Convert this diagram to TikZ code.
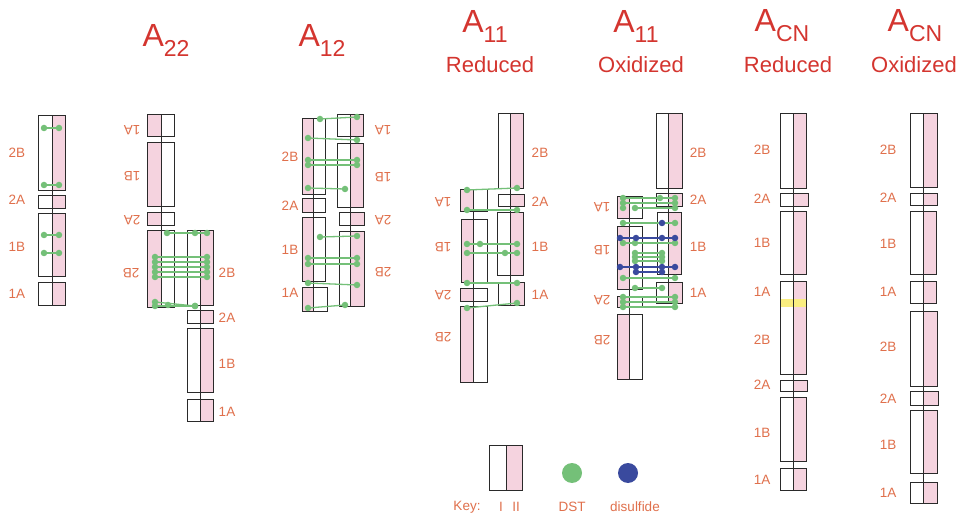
\documentclass[tikz,border=0pt]{standalone}
\usepackage{fontspec}
\setmainfont{Liberation Sans}
\definecolor{pinkc}{HTML}{F5D3DF}
\definecolor{boxc}{HTML}{2A2A2A}
\definecolor{titlec}{HTML}{D4352F}
\definecolor{lblc}{HTML}{E0704C}
\definecolor{dstc}{HTML}{74C078}
\definecolor{disc}{HTML}{3A4A9E}
\definecolor{yelc}{HTML}{FAEE80}
\newcommand\segR[5]{\fill[pinkc] (#2,#4) rectangle (#3,#5); \draw[boxline] (#1,#4) rectangle (#3,#5);}
\newcommand\segL[5]{\fill[pinkc] (#1,#4) rectangle (#2,#5); \draw[boxline] (#1,#4) rectangle (#3,#5);}
\newcommand\ctrline[3]{\draw[boxline] (#1,#2) -- (#1,#3);}
\newcommand\lb[3]{\node[lbl] (lab) at (#1,#2) {#3};}
\newcommand\lbf[3]{\node[lbl,rotate=180] (lab) at (#1,#2) {#3};}
\newcommand\dstl[4]{\node[dstdot] (p) at (#1,#2) {}; \node[dstdot] (q) at (#3,#4) {}; \draw[dstline] (p) -- (q);}
\newcommand\disl[4]{\node[disdot] (p) at (#1,#2) {}; \node[disdot] (q) at (#3,#4) {}; \draw[disline] (p) -- (q);}
\newcommand\dd[2]{\node[dstdot] (e) at (#1,#2) {};}
\newcommand\bd[2]{\node[disdot] (e) at (#1,#2) {};}
\newcommand\subs[1]{\raisebox{-10pt}{\fontsize{23}{23}\selectfont #1}}
\begin{document}
\begin{tikzpicture}[x=1pt,y=-1pt,
  boxline/.style={draw=boxc,line width=1pt},
  lbl/.style={text=lblc,font=\fontsize{13.5}{13.5}\selectfont,inner sep=0pt},
  ttl/.style={text=titlec,font=\fontsize{32}{32}\selectfont,anchor=base,inner sep=0pt},
  subttl/.style={text=titlec,font=\fontsize{22}{22}\selectfont,anchor=base,inner sep=0pt},
  dstdot/.style={circle,fill=dstc,inner sep=0pt,minimum size=6.5pt},
  disdot/.style={circle,fill=disc,inner sep=0pt,minimum size=6.5pt},
  dstline/.style={draw=dstc,line width=1.3pt,shorten <=-2pt,shorten >=-2pt},
  disline/.style={draw=disc,line width=1.7pt,shorten <=-2pt,shorten >=-2pt}]
\useasboundingbox (0,0) rectangle (964,518);
\fill[white] (0,0) rectangle (964,518);

% ---------- titles ----------
\node[ttl] (t1) at (166,47) {A\subs{22}};
\node[ttl] (t2) at (322,47) {A\subs{12}};
\node[ttl] (t3) at (485,33) {A\subs{11}};
\node[subttl] (s3) at (490,73) {Reduced};
\node[ttl] (t4) at (636,33) {A\subs{11}};
\node[subttl] (s4) at (641,73) {Oxidized};
\node[ttl] (t5) at (782,32) {A\subs{CN}};
\node[subttl] (s5) at (788,73) {Reduced};
\node[ttl] (t6) at (915,32) {A\subs{CN}};
\node[subttl] (s6) at (914,73) {Oxidized};

% ---------- left column ----------
\segR{38}{52}{65}{116}{191}
\segR{38}{52}{65}{196}{209}
\segR{38}{52}{65}{214}{277}
\segR{38}{52}{65}{283}{306}
\ctrline{52}{116}{306}
\lb{17}{153}{2B}\lb{17}{200}{2A}\lb{17}{247}{1B}\lb{17}{294}{1A}
\dstl{44}{128}{59}{128}
\dstl{44}{185}{59}{185}
\dstl{44}{235}{59}{235}
\dstl{44}{253}{59}{253}

% ---------- A22 ----------
\segL{147}{161}{174}{115}{137}
\segL{147}{161}{174}{143}{207}
\segL{147}{161}{174}{213}{226}
\segL{147}{161}{174}{231}{308}
\segR{187}{200}{213}{231}{306}
\segR{187}{200}{213}{311}{324}
\segR{187}{200}{213}{329}{393}
\segR{187}{200}{213}{400}{422}
\ctrline{161}{115}{308}
\ctrline{200}{231}{422}
\lbf{132}{130}{1A}\lbf{132}{176}{1B}\lbf{132}{220}{2A}\lbf{131}{273}{2B}
\lb{227}{273}{2B}\lb{227}{318}{2A}\lb{227}{364}{1B}\lb{227}{412}{1A}
\dstl{167}{233}{207}{233}\dd{195}{233}
\dstl{155}{257}{207}{257}
\dstl{155}{262}{207}{262}
\dstl{155}{267}{207}{267}
\dstl{155}{272}{207}{272}
\dstl{155}{277}{207}{277}
\dstl{155}{302}{195}{306}
\dstl{155}{306}{195}{306}\dd{168}{305}

% ---------- A12 ----------
\segL{302}{313}{325}{119}{195}
\segL{302}{313}{325}{199}{213}
\segL{302}{313}{325}{218}{282}
\segL{302}{313}{327}{288}{312}
\segR{337}{350}{363}{115}{137}
\segR{337}{350}{363}{144}{208}
\segR{339}{350}{364}{213}{226}
\segR{339}{350}{364}{232}{307}
\ctrline{313}{119}{312}
\ctrline{350}{115}{307}
\lb{290}{157}{2B}\lb{290}{206}{2A}\lb{290}{250}{1B}\lb{290}{293}{1A}
\lbf{383}{130}{1A}\lbf{383}{177}{1B}\lbf{383}{220}{2A}\lbf{383}{272}{2B}
\dstl{320}{119}{357}{117}
\dstl{308}{138}{357}{140}
\dstl{308}{160}{357}{160}
\dstl{308}{165}{357}{165}
\dstl{308}{188}{345}{189}
\dstl{320}{237}{357}{236}
\dstl{308}{258}{357}{258}
\dstl{308}{264}{357}{264}
\dstl{308}{283}{357}{285}
\dstl{308}{308}{345}{305}

% ---------- A11 reduced ----------
\segR{498}{510}{523}{114}{189}
\segR{498}{510}{524}{195}{207}
\segR{497}{510}{523}{213}{276}
\segR{498}{510}{524}{283}{306}
\segL{460}{473}{487}{190}{212}
\segL{461}{473}{487}{220}{283}
\segL{460}{473}{487}{289}{302}
\segL{460}{473}{487}{307}{383}
\ctrline{510}{114}{306}
\ctrline{473}{190}{383}
\lb{540}{153}{2B}\lb{540}{202}{2A}\lb{540}{247}{1B}\lb{540}{295}{1A}
\lbf{443}{202}{1A}\lbf{443}{247}{1B}\lbf{443}{295}{2A}\lbf{443}{337}{2B}
\dstl{467}{190}{517}{188}
\dstl{467}{210}{517}{210}
\dstl{467}{244}{517}{244}\dd{480}{244}
\dstl{467}{253}{517}{253}\dd{505}{253}
\dstl{467}{283}{517}{283}
\dstl{467}{308}{517}{303}

% ---------- A11 oxidized ----------
\segR{656}{668}{682}{114}{189}
\segR{656}{668}{682}{194}{207}
\segR{657}{668}{681}{213}{275}
\segR{656}{668}{682}{283}{304}
\segL{617}{629}{642}{197}{219}
\segL{617}{629}{642}{227}{290}
\segL{617}{629}{642}{297}{308}
\segL{617}{629}{642}{315}{380}
\ctrline{668}{114}{304}
\ctrline{629}{197}{380}
\lb{698}{153}{2B}\lb{698}{200}{2A}\lb{698}{247}{1B}\lb{698}{293}{1A}
\lbf{602}{207}{1A}\lbf{602}{250}{1B}\lbf{602}{300}{2A}\lbf{602}{340}{2B}
\dstl{623}{198}{675}{198}\dd{660}{198}
\dstl{623}{203}{675}{203}
\dstl{635}{208}{675}{208}\dd{623}{208}
\dstl{623}{223}{675}{223}\bd{662}{223}
\dstl{623}{243}{675}{243}\dd{635}{243}
\dstl{635}{253}{662}{253}
\dstl{635}{257}{662}{257}
\dstl{635}{261}{662}{261}
\dstl{623}{278}{675}{278}
\dstl{635}{288}{662}{288}
\dstl{623}{297}{675}{297}
\dstl{623}{302}{675}{302}
\dstl{623}{307}{675}{307}
\disl{620}{238}{675}{238}\bd{636}{238}\bd{662}{238}
\disl{620}{267}{675}{267}\bd{636}{267}\bd{662}{267}
\disl{636}{272}{662}{272}

% ---------- ACN reduced ----------
\segR{780}{793}{806}{114}{189}
\segR{780}{793}{808}{194}{207}
\segR{780}{793}{806}{212}{275}
\segR{780}{793}{806}{282}{375}
\fill[yelc] (780.5,299) rectangle (805.5,307);
\segR{780}{793}{807}{381}{392}
\segR{780}{793}{806}{398}{461}
\segR{780}{793}{806}{468}{490}
\ctrline{793}{114}{490}
\lb{762}{150}{2B}\lb{762}{199}{2A}\lb{762}{243}{1B}\lb{762}{292}{1A}
\lb{762}{340}{2B}\lb{762}{385}{2A}\lb{762}{433}{1B}\lb{762}{480}{1A}

% ---------- ACN oxidized ----------
\segR{910}{923}{937}{114}{188}
\segR{910}{923}{937}{194}{206}
\segR{910}{923}{936}{212}{275}
\segR{910}{923}{936}{282}{304}
\segR{910}{923}{937}{312}{387}
\segR{910}{923}{938}{392}{406}
\segR{910}{923}{937}{411}{473}
\segR{910}{923}{937}{482}{503}
\ctrline{923}{114}{503}
\lb{888}{150}{2B}\lb{888}{198}{2A}\lb{888}{244}{1B}\lb{888}{292}{1A}
\lb{888}{347}{2B}\lb{888}{399}{2A}\lb{888}{445}{1B}\lb{888}{493}{1A}

% ---------- key ----------
\segR{489}{506}{522}{445}{490}
\ctrline{506}{445}{490}
\node[circle,fill=dstc,inner sep=0pt,minimum size=20pt] (kd) at (572,473) {};
\node[circle,fill=disc,inner sep=0pt,minimum size=20pt] (kb) at (628,473) {};
\lb{467}{507}{Key:}\lb{501}{507}{I}\lb{516}{507}{II}
\lb{572}{507}{DST}\lb{635}{507}{disulfide}
\end{tikzpicture}
\end{document}
